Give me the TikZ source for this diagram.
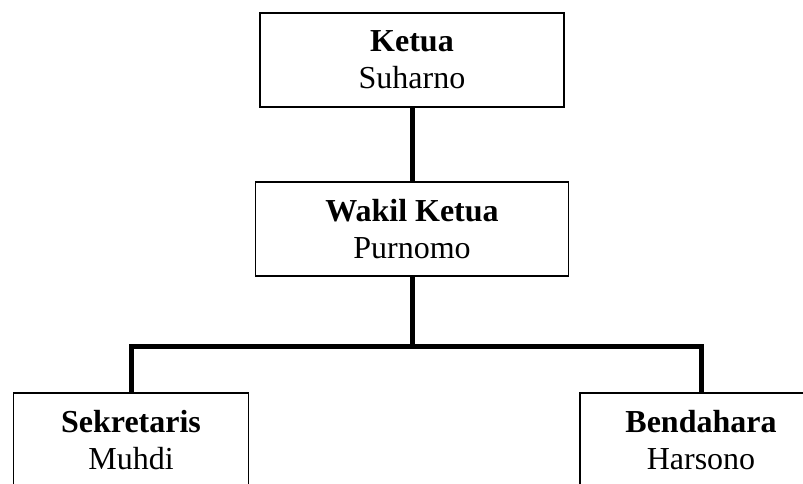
\documentclass[tikz,border=0pt]{standalone}
\usepackage{fontspec}
\setmainfont{Liberation Serif}

\begin{document}
\begin{tikzpicture}[x=0.75pt,y=-0.75pt,
		jbox/.style={draw, line width=1.1pt, inner sep=0pt, align=center,
				minimum height=70.5pt, font=\fontsize{24pt}{27.5pt}\selectfont},
		conn/.style={line width=3.75pt, line join=miter}]

	\useasboundingbox (0,0) rectangle (803,484);
	\clip (0,0) rectangle (803,484);

	% --- Upper boxes ---
	\node[jbox, minimum width=228pt] (ketua) at (412,60) {\textbf{Ketua}\\Suharno};
	\node[jbox, minimum width=234.75pt] (wakil) at (412,229) {\textbf{Wakil Ketua}\\Purnomo};

	% --- Lower boxes (cut at the bottom edge) ---
	\node[jbox, minimum width=176.25pt] (sekre) at (131,440) {\textbf{Sekretaris}\\Muhdi};
	\node[jbox, minimum width=181.5pt] (benda) at (701,440) {\textbf{Bendahara}\\Harsono};

	\coordinate (bus) at (412,347);

	\draw[conn] (ketua) -- (wakil);
	\draw[conn] (wakil) -- (bus);
	\draw[conn] (sekre) |- (bus) -| (benda);

\end{tikzpicture}
\end{document}
